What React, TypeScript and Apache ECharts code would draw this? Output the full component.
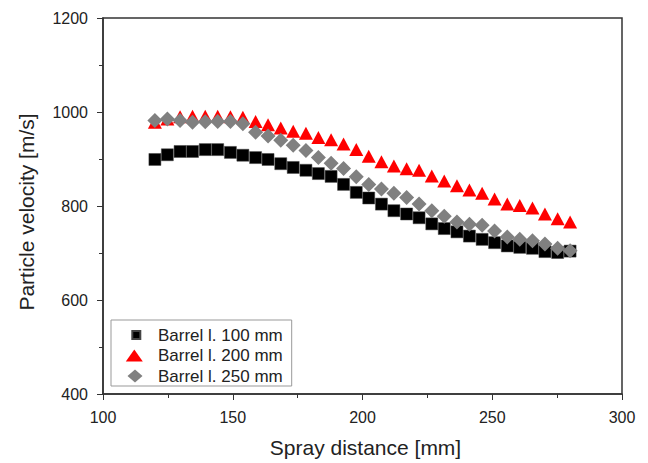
import React, { useEffect, useRef } from "react";
import * as echarts from "echarts";

const sprayDistance = [
  120, 124.8, 129.7, 134.5, 139.4, 144.2, 149.1, 153.9, 158.8, 163.6, 168.5,
  173.3, 178.2, 183.0, 187.9, 192.7, 197.6, 202.4, 207.3, 212.1, 217.0, 221.8,
  226.7, 231.5, 236.4, 241.2, 246.1, 250.9, 255.8, 260.6, 265.5, 270.3, 275.2,
  280.0,
];
const barrel100 = [
  899, 909, 916, 916, 920, 920, 914, 908, 903, 899, 890, 882, 876, 869, 863,
  846, 829, 817, 804, 790, 783, 775, 762, 752, 745, 736, 729, 722, 715, 712,
  710, 703, 701, 704,
];
const barrel200 = [
  978, 985, 990, 991, 991, 991, 990, 989, 980, 973, 966, 959, 955, 946, 941,
  932, 920, 906, 894, 885, 879, 876, 864, 853, 843, 834, 827, 815, 804, 801,
  796, 783, 773, 766,
];
const barrel250 = [
  982, 985, 982, 978, 979, 980, 980, 975, 957, 949, 940, 929, 918, 903, 891,
  880, 862, 846, 836, 827, 818, 804, 790, 778, 766, 761, 759, 747, 734, 729,
  726, 719, 710, 705,
];
const seriesNames = ["Barrel l. 100 mm", "Barrel l. 200 mm", "Barrel l. 250 mm"];

const pairs = (ys: number[]) => sprayDistance.map((x, i) => [x, ys[i]]);

export default function App() {
  const ref = useRef<HTMLDivElement>(null);
  useEffect(() => {
    if (!ref.current) return;
    const chart = echarts.init(ref.current, null, { renderer: "svg" });
    const font = "'Liberation Sans', Arial, sans-serif";
    const axisLine = { show: true, lineStyle: { color: "#333", width: 1.5 } };
    const tick = { show: true, length: 6, lineStyle: { color: "#333", width: 1 } };
    const minor = { show: true, splitNumber: 2, length: 4, lineStyle: { color: "#333", width: 1 } };
    const label = { fontFamily: font, fontSize: 16, color: "#222", margin: 15 };
    chart.setOption({
      animation: false,
      backgroundColor: "#fff",
      grid: {
        left: 103,
        right: 26,
        top: 18,
        bottom: 65,
        show: true,
        borderColor: "#333",
        borderWidth: 1.5,
        backgroundColor: "transparent",
      },
      legend: {
        orient: "vertical",
        left: 111,
        top: 320,
        padding: [6.5, 9, 1.5, 12],
        borderColor: "#999",
        borderWidth: 1,
        itemWidth: 22,
        itemHeight: 14,
        itemGap: 3.5,
        symbolKeepAspect: false,
        selectedMode: false,
        textStyle: {
          fontFamily: font,
          fontSize: 17,
          color: "#222",
          padding: [0, 0, 0, 7],
        },
        data: [
          { name: seriesNames[0], icon: "path://M0,0M22,14M8.3,3h8v8h-8z" },
          { name: seriesNames[1], icon: "path://M0,0M22,14M10.3,1L18.8,13L1.8,13Z" },
          { name: seriesNames[2], icon: "path://M0,0M22,14M11,0.5L18.5,7L11,13.5L3.5,7Z" },
        ],
      },
      xAxis: {
        type: "value",
        min: 100,
        max: 300,
        interval: 50,
        name: "Spray distance [mm]",
        nameLocation: "middle",
        nameGap: 43,
        nameTextStyle: { fontFamily: font, fontSize: 21, color: "#222", padding: [0, 0, 0, 6] },
        axisLine,
        axisTick: tick,
        minorTick: minor,
        splitLine: { show: false },
        axisLabel: label,
      },
      yAxis: {
        type: "value",
        min: 400,
        max: 1200,
        interval: 200,
        name: "Particle velocity [m/s]",
        nameLocation: "middle",
        nameGap: 66,
        nameTextStyle: { fontFamily: font, fontSize: 21, color: "#222", padding: [0, 12, 0, 0] },
        axisLine,
        axisTick: tick,
        minorTick: minor,
        splitLine: { show: false },
        axisLabel: { ...label, formatter: (v: number) => String(v) },
      },
      series: [
        {
          name: seriesNames[0],
          type: "scatter",
          symbol: "rect",
          symbolSize: 12,
          itemStyle: { color: "#000", opacity: 1, borderColor: "#444", borderWidth: 0.5 },
          data: pairs(barrel100),
          z: 2,
        },
        {
          name: seriesNames[1],
          type: "scatter",
          symbol: "triangle",
          symbolSize: [14, 13],
          itemStyle: { color: "#ff0000", opacity: 1 },
          data: pairs(barrel200),
          z: 3,
        },
        {
          name: seriesNames[2],
          type: "scatter",
          symbol: "diamond",
          symbolSize: 15,
          itemStyle: { color: "#808080", opacity: 1 },
          data: pairs(barrel250),
          z: 4,
        },
      ],
    });
    return () => chart.dispose();
  }, []);
  return <div ref={ref} style={{ width: 648, height: 463, position: "absolute", left: 0, top: 0 }} />;
}
